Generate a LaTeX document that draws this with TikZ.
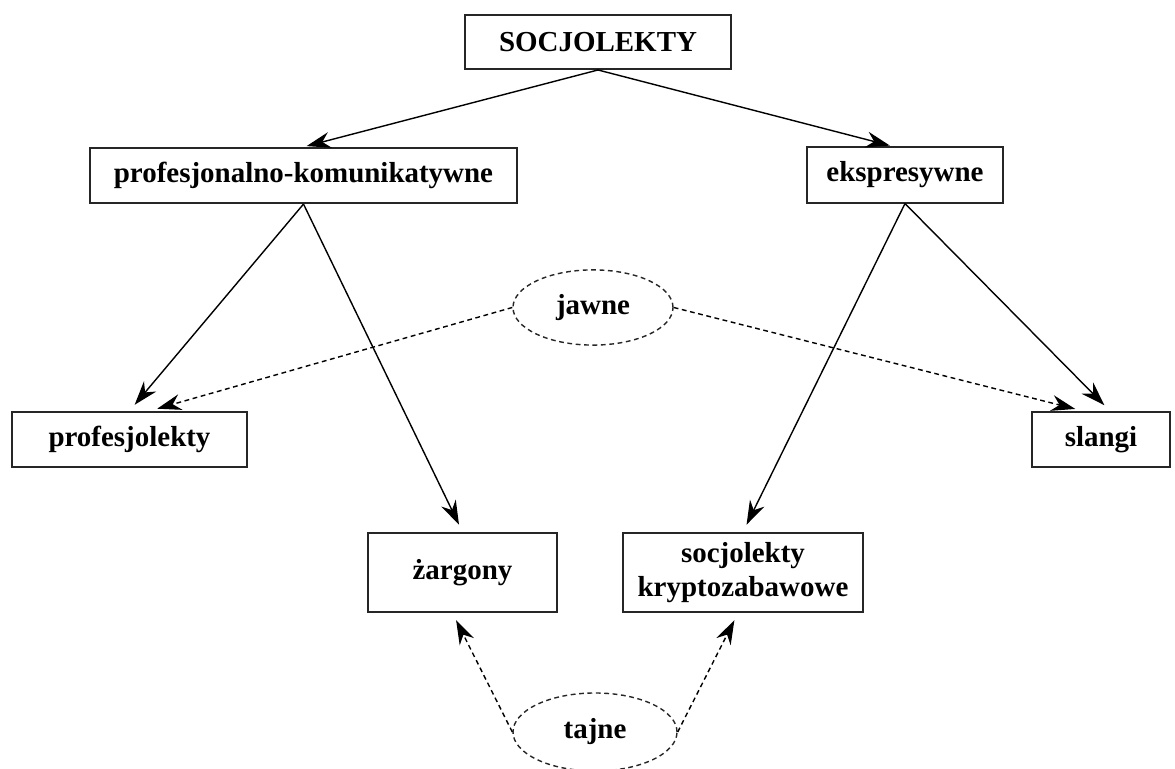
\documentclass[tikz,border=0pt]{standalone}
\usepackage{fontspec}
\setmainfont{Liberation Serif}
\usetikzlibrary{shapes.geometric,arrows.meta,calc}
\begin{document}
\begin{tikzpicture}[x=0.125mm,y=-0.125mm,
  font=\fontsize{10.3}{12}\selectfont\bfseries,
  box/.style={draw=black!85,line width=0.7pt,inner sep=0pt,align=center},
  oval/.style={ellipse,draw=black!85,dash pattern=on 0.6mm off 0.45mm,line width=0.5pt,inner sep=0pt},
  arr/.style={line width=0.5pt,-{Stealth[length=3mm,width=2mm]},shorten >=1mm},
  darr/.style={arr,dash pattern=on 0.6mm off 0.45mm}]
\useasboundingbox (0,0) rectangle (1175,769);
% boxes
\node[box,minimum width=33.25mm,minimum height=6.75mm] (soc) at (598,42) {SOCJOLEKTY};
\node[box,minimum width=53.4mm,minimum height=6.9mm] (prof) at (303.5,175.5) {profesjonalno-komunikatywne};
\node[box,minimum width=24.5mm,minimum height=6.9mm] (eksp) at (905,175) {ekspresywne};
\node[box,minimum width=29.4mm,minimum height=6.9mm] (profl) at (129.5,439.5) {profesjolekty};
\node[box,minimum width=17.25mm,minimum height=6.9mm] (slangi) at (1101,439.5) {slangi};
\node[box,minimum width=23.6mm,minimum height=9.9mm] (zarg) at (462.5,572.5) {żargony};
\node[box,minimum width=30mm,minimum height=9.9mm] (krypto) at (743,572.5) {socjolekty\\kryptozabawowe};
% ellipses
\node[oval,minimum width=20mm,minimum height=9.4mm] (jawne) at (593,307.5) {jawne};
\node[oval,minimum width=20.5mm,minimum height=9.75mm] (tajne) at (595,732) {tajne};
% solid arrows
\draw[arr,shorten >=0.4mm] (soc.south) -- (prof.north);
\draw[arr,shorten >=0.4mm] (soc.south) -- ($(eksp.north)+(-12,0)$);
\draw[arr] (prof.south) -- (profl.north);
\draw[arr] (prof.south) -- (zarg.north);
\draw[arr] (eksp.south) -- (krypto.north);
\draw[arr] (eksp.south) -- ($(slangi.north)+(9,0)$);
% dashed arrows
\draw[darr] (jawne.west) -- ($(profl.north)+(20,0)$);
\draw[darr] (jawne.east) -- ($(slangi.north)+(-18,0)$);
\draw[darr] (tajne.west) -- ($(zarg.south)+(-10,0)$);
\draw[darr] (tajne.east) -- ($(krypto.south)+(-5,0)$);
\end{tikzpicture}
\end{document}
